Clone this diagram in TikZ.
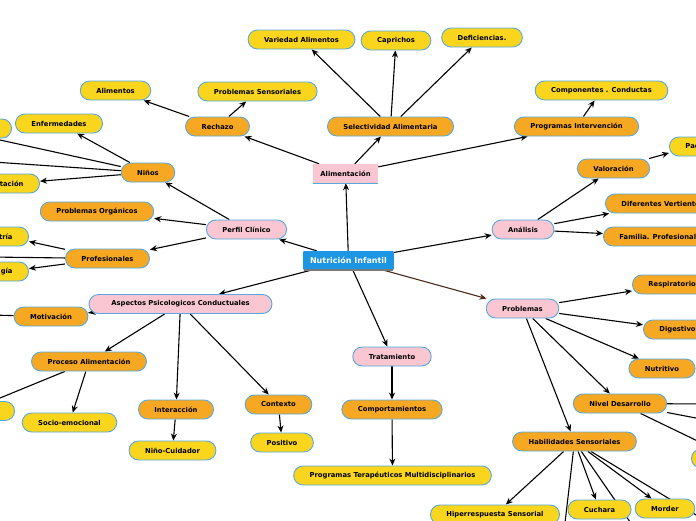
\documentclass[tikz,border=0pt]{standalone}
\usepackage{fontspec}
\setmainfont{DejaVu Sans}
\usetikzlibrary{arrows.meta}
\definecolor{cOra}{HTML}{F7A823}
\definecolor{cYel}{HTML}{F9D51E}
\definecolor{cPink}{HTML}{F9C6D2}
\definecolor{cBord}{HTML}{56A9DE}
\definecolor{cRoot}{HTML}{1C95E3}
\definecolor{cBrown}{HTML}{4A2A1A}
\definecolor{cShadow}{HTML}{7A7A7A}
\newcommand\mmfont{\bfseries\fontsize{6.8}{8}\selectfont}
\pgfdeclarelayer{bg}
\pgfdeclarelayer{paper}
\pgfsetlayers{paper,bg,main}
\begin{document}
\begin{tikzpicture}[x=1pt,y=-1pt,
  mm/.style={rounded corners=9.5pt, draw=cBord, line width=0.9pt, minimum height=19pt,
    inner xsep=16pt, inner ysep=0pt, font=\mmfont, text=black},
  ora/.style={mm, fill=cOra},
  yel/.style={mm, fill=cYel},
  pnk/.style={mm, fill=cPink},
  edge/.style={line width=1.1pt, draw=black, -{Stealth[length=7pt,width=6pt]}},
  plain/.style={line width=1.1pt, draw=black}]
\useasboundingbox (0,0) rectangle (696,520);
\begin{pgfonlayer}{paper}
\fill[white] (0,0) rectangle (696,520);
\end{pgfonlayer}

% root and level 1
\node[fill=cRoot, rounded corners=1pt, minimum height=19pt, inner xsep=7pt, inner ysep=0pt,
  font=\bfseries\fontsize{8}{10}\selectfont, text=white] (root) at (348.5,260.5) {Nutrición Infantil};
\draw[cShadow, line width=1.6pt] ([xshift=1pt]root.south west) -- ([xshift=-1pt]root.south east);
\node[fill=cPink, minimum height=19pt, inner xsep=7.5pt, inner ysep=0pt, font=\mmfont] (alim) at (345.5,173.5) {Alimentación};
\draw[cBord, line width=1pt] (alim.south west) -- (alim.south east);
\node[pnk] (perfil) at (246.5,229.5) {Perfil Clínico};
\node[pnk] (anal) at (523,229.5) {Análisis};
\node[pnk, minimum width=183pt] (asp) at (180.5,304) {Aspectos Psicologicos Conductuales};
\node[pnk] (trat) at (392,356.5) {Tratamiento};
\node[pnk] (prob) at (522.5,308.5) {Problemas};

% Alimentación branch
\node[ora] (rech) at (217.5,126.5) {Rechazo};
\node[ora] (selec) at (390.5,126.5) {Selectividad Alimentaria};
\node[ora] (progi) at (576.5,126.5) {Programas Intervención};
\node[yel] (alimentos) at (115.5,90.5) {Alimentos};
\node[yel] (probsens) at (257.5,91.5) {Problemas Sensoriales};
\node[yel] (varied) at (301.5,39.5) {Variedad Alimentos};
\node[yel] (capr) at (396,40.5) {Caprichos};
\node[yel] (defic) at (482,37.5) {Deficiencias.};
\node[yel] (compon) at (601.5,90.5) {Componentes . Conductas};

% Perfil Clínico branch
\node[ora] (ninos) at (148,172.5) {Niños};
\node[ora] (porg) at (97,211.5) {Problemas Orgánicos};
\node[ora] (profs) at (107.5,258.5) {Profesionales};
\node[yel] (enferm) at (59,123.5) {Enfermedades};
\node[yel, anchor=east, minimum width=60pt] (ptl) at (12,128.5) {};
\node[yel, anchor=east] (tacion) at (40,183.5) {tación};
\node[yel, anchor=east] (tria) at (29,236.5) {tría};
\node[yel, anchor=east] (gia) at (29,271.5) {gía};
\coordinate (oN1) at (-10,137.8);
\coordinate (oN2) at (-10,161.8);
\coordinate (oP) at (-10,257);

% Análisis branch
\node[ora] (valor) at (613.5,168.5) {Valoración};
\node[ora, anchor=west] (difer) at (605,203.5) {Diferentes Vertientes};
\node[ora, anchor=west] (famil) at (603,236.5) {Familia. Profesionales};
\node[yel, anchor=west] (pac) at (669,146.5) {Pac};

% Aspectos branch
\node[ora] (motiv) at (51,316.5) {Motivación};
\node[ora] (proc) at (89,361.5) {Proceso Alimentación};
\node[ora] (inter) at (176,409.5) {Interacción};
\node[ora] (conte) at (278.5,404.5) {Contexto};
\node[yel, anchor=east, minimum width=60pt] (pl2) at (15,411) {};
\node[yel] (socio) at (69.5,422.5) {Socio-emocional};
\node[yel] (ninocu) at (172.5,450.5) {Niño-Cuidador};
\node[yel] (posit) at (282,442.5) {Positivo};
\coordinate (oM) at (-10,315);
\coordinate (oPr) at (-20,406.2);

% Tratamiento branch
\node[ora] (compor) at (392,409.5) {Comportamientos};
\node[yel] (progt) at (392.5,475.5) {Programas Terapéuticos Multidisciplinarios};

% Problemas branch
\node[ora, anchor=west] (resp) at (632,284.5) {Respiratorio};
\node[ora, anchor=west] (diges) at (643,329.5) {Digestivo};
\node[ora] (nutri) at (662,368.5) {Nutritivo};
\node[ora] (nivel) at (620,403.5) {Nivel Desarrollo};
\node[ora] (habil) at (574.5,441.5) {Habilidades Sensoriales};
\node[yel, anchor=west, minimum width=60pt] (pr2) at (691,458.5) {};
\node[yel] (hiper) at (495,514.5) {Hiperrespuesta Sensorial};
\node[yel] (cuch) at (599.5,509.5) {Cuchara};
\node[yel] (morder) at (665,508.5) {Morder};
\coordinate (oNv1) at (710,404);
\coordinate (oNv2) at (710,420.7);
\coordinate (oNv3) at (710,447);
\coordinate (oH1) at (563,540);
\coordinate (oH2) at (642.5,540);
\coordinate (oH3) at (710,523.4);

\begin{pgfonlayer}{bg}
\draw[edge] (root) -- (alim);
\draw[edge] (root) -- (perfil);
\draw[edge] (root) -- (anal);
\draw[edge] (root) -- (asp);
\draw[edge] (root) -- (trat);
\draw[edge, draw=cBrown, -{Stealth[length=7pt,width=6pt,fill=cBrown]}] (root) -- (prob);

\draw[edge] (alim) -- (rech);
\draw[edge] (alim) -- (selec);
\draw[edge] (alim) -- (progi);
\draw[edge] (rech) -- (alimentos);
\draw[edge] (rech) -- (probsens);
\draw[edge] (selec) -- (varied);
\draw[edge] (selec) -- (capr);
\draw[edge] (selec) -- (defic);
\draw[edge] (progi) -- (compon);

\draw[edge] (perfil) -- (ninos);
\draw[edge] (perfil) -- (porg);
\draw[edge] (perfil) -- (profs);
\draw[edge] (ninos) -- (enferm);
\draw[plain] (ninos) -- (oN1);
\draw[plain] (ninos) -- (oN2);
\draw[edge] (ninos) -- (tacion);
\draw[edge] (profs) -- (tria);
\draw[plain] (profs) -- (oP);
\draw[edge] (profs) -- (gia);

\draw[edge] (anal) -- (valor);
\draw[edge] (anal) -- (difer);
\draw[edge] (anal) -- (famil);
\draw[edge] (valor) -- (pac);

\draw[edge] (asp) -- (motiv);
\draw[edge] (asp) -- (proc);
\draw[edge] (asp) -- (inter);
\draw[edge] (asp) -- (conte);
\draw[plain] (motiv) -- (oM);
\draw[plain] (proc) -- (oPr);
\draw[edge] (proc) -- (socio);
\draw[edge] (inter) -- (ninocu);
\draw[edge] (conte) -- (posit);

\draw[edge] (trat) -- (compor);
\draw[edge] (compor) -- (progt);

\draw[edge] (prob) -- (resp);
\draw[edge] (prob) -- (diges);
\draw[edge] (prob) -- (nutri);
\draw[edge] (prob) -- (nivel);
\draw[edge] (prob) -- (habil);
\draw[plain] (nivel) -- (oNv1);
\draw[plain] (nivel) -- (oNv2);
\draw[plain] (nivel) -- (oNv3);
\draw[edge] (habil) -- (hiper);
\draw[plain] (habil) -- (oH1);
\draw[edge] (habil) -- (cuch);
\draw[plain] (habil) -- (oH2);
\draw[edge] (habil) -- (morder);
\draw[plain] (habil) -- (oH3);
\end{pgfonlayer}
\end{tikzpicture}
\end{document}
